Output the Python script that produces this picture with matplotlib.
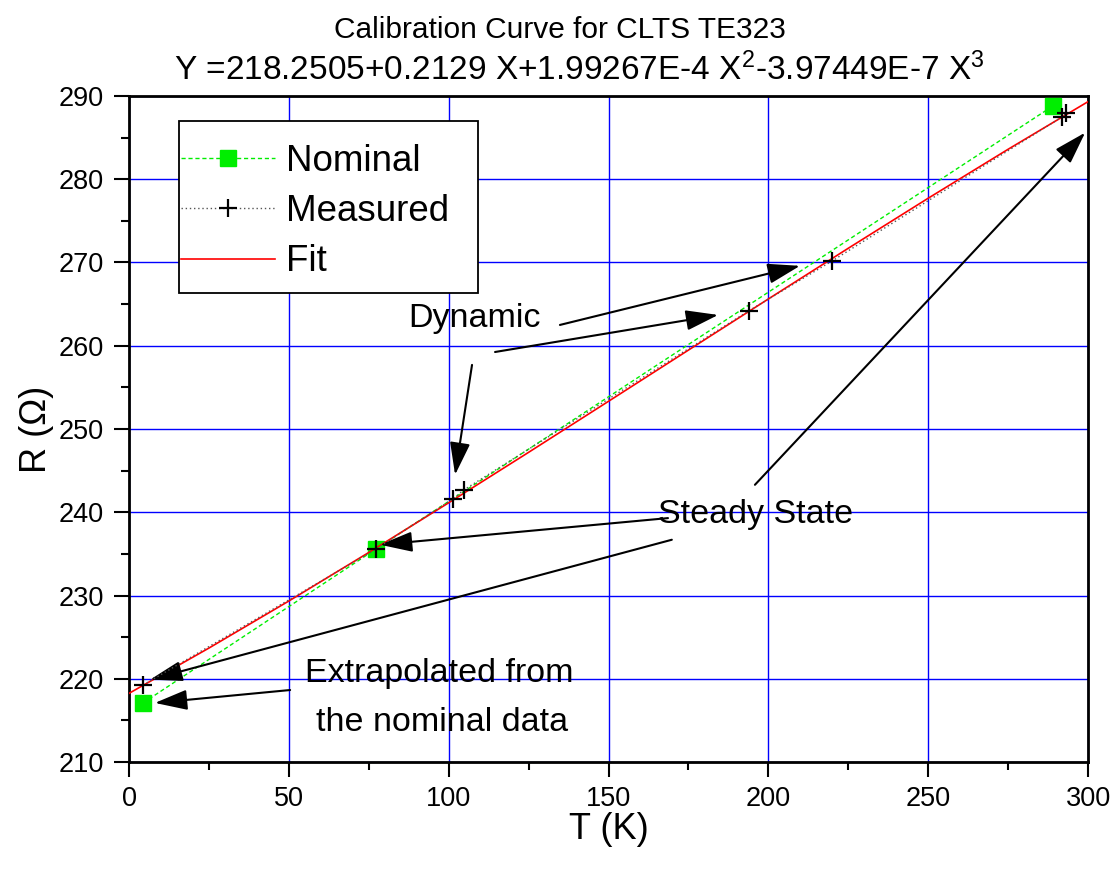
import matplotlib
matplotlib.use("Agg")
import matplotlib.pyplot as plt
from matplotlib.patches import Rectangle
from matplotlib.ticker import MultipleLocator

plt.rcParams["font.family"] = ["Liberation Sans", "DejaVu Sans"]
plt.rcParams["mathtext.fontset"] = "custom"
plt.rcParams["mathtext.rm"] = "Liberation Sans"
plt.rcParams["mathtext.it"] = "Liberation Sans:italic"

# data
nominal_t = [4.4, 77.3, 289.0]
nominal_r = [217.1, 235.6, 288.8]

measured_t = [4.4, 77.3, 101.3, 104.8, 193.9, 220.0, 291.9, 293.1]
measured_r = [219.25, 235.6, 241.6, 242.7, 264.2, 270.2, 287.5, 287.9]

fit_t = [0, 25, 50, 75, 100, 125, 150, 175, 200, 225, 250, 275, 300]
fit_r = [218.25, 223.69, 229.34, 235.17, 241.14, 247.20, 253.33, 259.48,
         265.62, 271.71, 277.72, 283.60, 289.32]

title1 = "Calibration Curve for CLTS TE323"
title2 = r"Y =218.2505+0.2129 X+1.99267E-4 X$^2$-3.97449E-7 X$^3$"

fig = plt.figure(figsize=(11.18, 8.71), dpi=100)
ax = fig.add_axes([0.1154, 0.1251, 0.8578, 0.7647])

ax.plot(nominal_t, nominal_r, color="#00ee00", ls=(0, (3, 2)), lw=1,
        marker="s", ms=11, mfc="#00ee00", mec="#00ee00", label="Nominal", zorder=3)
ax.plot(measured_t, measured_r, color="#555555", ls=(0, (1, 2)), lw=1,
        marker="+", ms=12.5, mec="black", mew=1.6, label="Measured", zorder=4)
ax.plot(fit_t, fit_r, color="red", lw=1.2, label="Fit", zorder=3)

ax.set_xlim(0, 300)
ax.set_ylim(210, 290)
ax.xaxis.set_major_locator(MultipleLocator(50))
ax.xaxis.set_minor_locator(MultipleLocator(25))
ax.yaxis.set_major_locator(MultipleLocator(10))
ax.yaxis.set_minor_locator(MultipleLocator(5))
ax.grid(True, which="major", color="#0000ff", lw=1)
ax.set_axisbelow(True)
for s in ax.spines.values():
    s.set_linewidth(2)
ax.tick_params(which="major", direction="out", length=11, width=1.5, labelsize=19.5)
ax.tick_params(axis="y", which="major", pad=7)
ax.tick_params(axis="x", which="major", pad=6)
ax.tick_params(which="minor", direction="out", length=6, width=1.5)

ax.set_xlabel("T (K)", fontsize=26, labelpad=0)
ax.set_ylabel("R (Ω)", fontsize=26, labelpad=3)

fig.text(0.501, 0.966, title1, ha="center", va="center", fontsize=21.5)
fig.text(174 / 1118, 0.920, title2, ha="left", va="center", fontsize=24)

# legend frame drawn as a plain box, legend itself without frame
ax.add_patch(Rectangle((0.0521, 0.7042), 0.3118, 0.2583, transform=ax.transAxes,
                       facecolor="white", edgecolor="black", lw=1.3, zorder=4.5,
                       clip_on=False))
leg = ax.legend(loc="upper left", bbox_to_anchor=(0.0542, 0.9275), fontsize=26.5,
                handlelength=2.55, labelspacing=0.41, borderpad=0,
                handletextpad=0.3, frameon=False, borderaxespad=0)
leg.set_zorder(5)

arrow = dict(arrowstyle="-|>,head_length=0.8,head_width=0.25", mutation_scale=25,
             color="black", lw=1.5, shrinkA=0, shrinkB=0)

ax.text(108.2, 263.3, "Dynamic", fontsize=24.5, ha="center", va="center")
for (x0, y0), (x1, y1) in [((134.8, 262.5), (209.9, 269.6)),
                           ((114.5, 259.25), (184.3, 263.7)),
                           ((107.3, 257.7), (102.0, 244.5))]:
    ax.annotate("", xy=(x1, y1), xytext=(x0, y0), arrowprops=arrow)

ax.text(196.0, 239.7, "Steady State", fontsize=24.5, ha="center", va="center")
for (x0, y0), (x1, y1) in [((168.6, 239.3), (78.5, 236.1)),
                           ((169.8, 236.7), (6.6, 219.9)),
                           ((195.8, 243.3), (299.1, 285.6))]:
    ax.annotate("", xy=(x1, y1), xytext=(x0, y0), arrowprops=arrow)

ax.text(97.0, 220.6, "Extrapolated from", fontsize=24.5, ha="center", va="center")
ax.text(98.0, 214.8, "the nominal data", fontsize=24.5, ha="center", va="center")
ax.annotate("", xy=(8.1, 217.1), xytext=(50.4, 218.65), arrowprops=arrow)

fig.savefig("out.png", dpi=100)
